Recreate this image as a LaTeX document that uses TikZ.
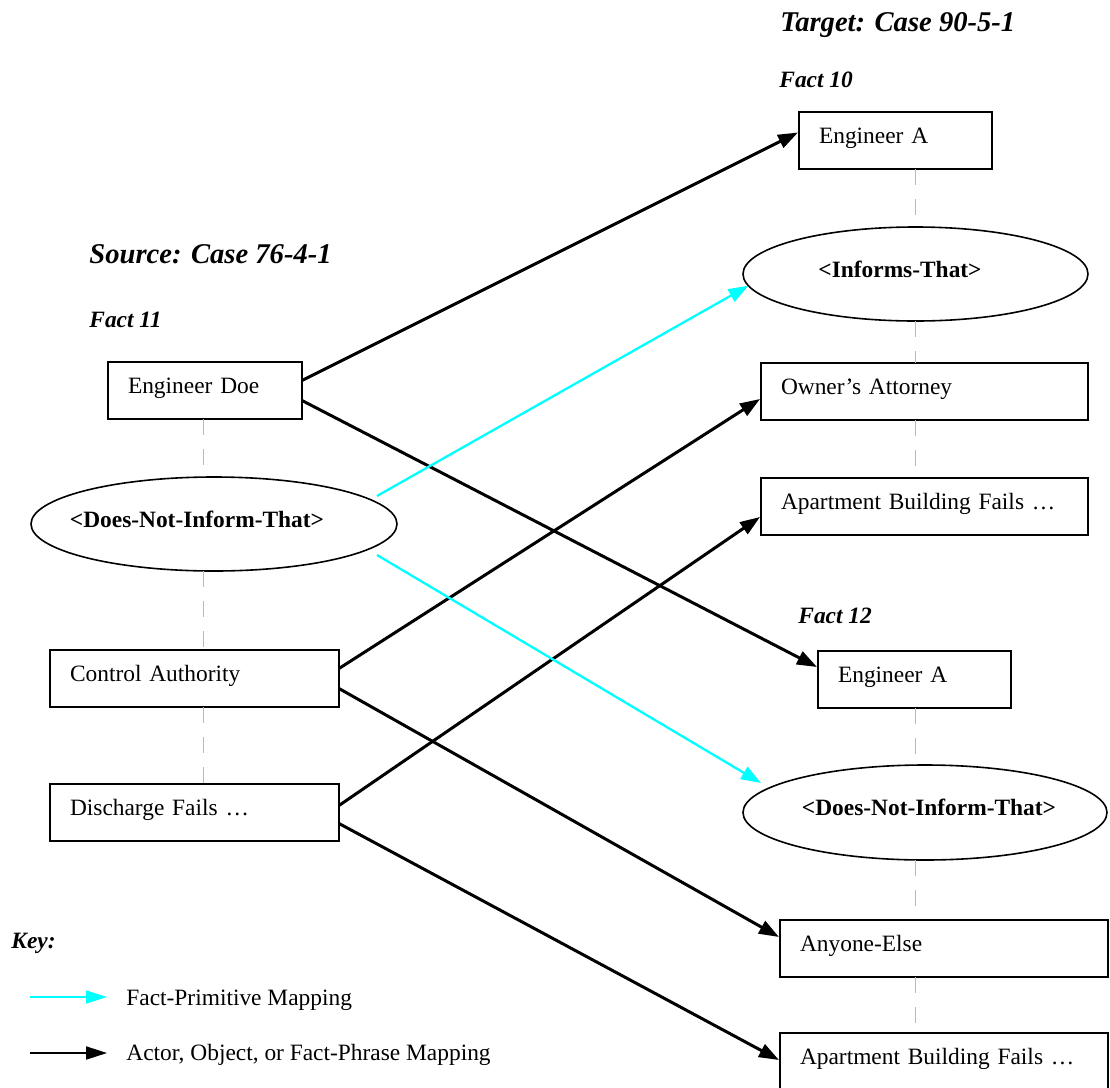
\documentclass[tikz,border=0pt]{standalone}
\usepackage{fontspec}
\setmainfont{Liberation Serif}
\usetikzlibrary{arrows.meta,calc,shapes.geometric}
\definecolor{cyanmap}{RGB}{0,255,255}
\definecolor{dashgray}{RGB}{185,185,185}
\begin{document}
\begin{tikzpicture}[x=0.5pt,y=-0.5pt,
  every node/.style={font=\fontsize{11.7pt}{14pt}\selectfont},
  factbox/.style={draw, line width=1pt, fill=white, rectangle, anchor=north west,
    outer sep=0pt, inner xsep=10pt, inner ysep=0pt, align=left,
    text height=8pt, text depth=5pt, minimum height=28.5pt},
  primell/.style={draw, line width=0.8pt, fill=white, ellipse, outer sep=0pt,
    inner sep=0pt, text height=8pt, text depth=5pt, font=\fontsize{11.7pt}{14pt}\selectfont\bfseries},
  heading/.style={anchor=base west, inner sep=0pt, font=\fontsize{14.3pt}{17pt}\selectfont\bfseries\itshape},
  factlabel/.style={anchor=base west, inner sep=0pt, font=\fontsize{11.7pt}{14pt}\selectfont\bfseries\itshape},
  keytext/.style={anchor=base west, inner sep=0pt},
  link/.style={dashgray, line width=0.5pt, dash pattern=on 8pt off 7pt},
  objmap/.style={line width=1.5pt, -{Triangle[length=10pt,width=7pt]}},
  primmap/.style={cyanmap, line width=1.15pt, -{Triangle[length=10pt,width=7pt]}}
]
\useasboundingbox (0,0) rectangle (1110,1088);
\clip (0,0) rectangle (1110,1088);

% headings
\node[heading] (src) at (89,263) {Source: Case 76-4-1};
\node[heading] (tgt) at (780,31) {Target: Case 90-5-1};
\node[factlabel] (f11) at (89,327) {Fact 11};
\node[factlabel] (f10) at (779,87) {Fact 10};
\node[factlabel] (f12) at (798,623) {Fact 12};
\node[factlabel] (key) at (11,948) {Key:};

% column coordinates for the dashed links
\coordinate (colL) at (203,0);
\coordinate (colR) at (915,0);

% source nodes
\node[factbox, minimum width=97pt, text width=77pt] (engdoe) at (108,362) {Engineer Doe};
\node[primell, minimum width=183pt, minimum height=47pt] (dnitL) at (214,524)
  {\makebox[0pt]{<Does-Not-Inform-That>\hspace{17pt}}};
\node[factbox, minimum width=144.5pt, text width=124.5pt] (contauth) at (50,650) {Control Authority};
\node[factbox, minimum width=144.5pt, text width=124.5pt] (disch) at (50,784) {Discharge Fails …};

% target nodes
\node[factbox, minimum width=96.5pt, text width=76.5pt] (engA10) at (799,112) {Engineer A};
\node[primell, minimum width=172.5pt, minimum height=47pt] (informs) at (915.5,274)
  {\makebox[0pt]{<Informs-That>\hspace{15.5pt}}};
\node[factbox, minimum width=163.5pt, text width=143.5pt] (owner) at (761,363) {Owner’s Attorney};
\node[factbox, minimum width=163.5pt, text width=143.5pt] (aptU) at (761,478) {Apartment Building Fails …};
\node[factbox, minimum width=96.5pt, text width=76.5pt] (engA12) at (818,651) {Engineer A};
\node[primell, minimum width=182pt, minimum height=47.5pt] (dnitR) at (925,812.5)
  {\makebox[0pt]{\hspace{4pt}<Does-Not-Inform-That>}};
\node[factbox, minimum width=164pt, text width=144pt] (anyone) at (780,920) {Anyone-Else};
\node[factbox, minimum width=164pt, text width=144pt] (aptL) at (780,1033) {Apartment Building Fails …};

% dashed links within facts
\draw[link] (engdoe.south -| colL) -- (dnitL.north -| colL);
\draw[link] (dnitL.south -| colL) -- (contauth.north -| colL);
\draw[link] (contauth.south -| colL) -- (disch.north -| colL);
\draw[link] (engA10.south -| colR) -- (informs.north -| colR);
\draw[link] (informs.south -| colR) -- (owner.north -| colR);
\draw[link] (owner.south -| colR) -- (aptU.north -| colR);
\draw[link] (engA12.south -| colR) -- (dnitR.north -| colR);
\draw[link] (dnitR.south -| colR) -- (anyone.north -| colR);
\draw[link] (anyone.south -| colR) -- (aptL.north -| colR);

% mappings
\draw[objmap] ($(engdoe.east)+(0,-10)$) -- ($(engA10.west)+(-1,-8)$);
\draw[objmap] ($(engdoe.east)+(0,10)$) -- ($(engA12.west)+(-1,-12.5)$);
\draw[objmap] ($(contauth.east)+(0,-10)$) -- ($(owner.west)+(-1,7.5)$);
\draw[objmap] ($(contauth.east)+(0,10)$) -- ($(anyone.west)+(-1,-11.5)$);
\draw[objmap] ($(disch.east)+(0,-7)$) -- ($(aptU.west)+(-1,10.5)$);
\draw[objmap] ($(disch.east)+(0,11)$) -- ($(aptL.west)+(-1,-1.5)$);
\draw[primmap] ($(dnitL.east)+(-20,-28)$) -- (informs.184);
\draw[primmap] ($(dnitL.east)+(-20,31)$) -- ($(dnitR.west)+(18,-29.5)$);

% key
\coordinate (k1a) at (30,997);
\coordinate (k1b) at (107,997);
\coordinate (k2a) at (30,1053);
\coordinate (k2b) at (107,1053);
\draw[cyanmap, line width=0.8pt, -{Triangle[length=10.5pt,width=6.5pt]}] (k1a) -- (k1b);
\draw[line width=1pt, -{Triangle[length=10.5pt,width=6.5pt]}] (k2a) -- (k2b);
\node[keytext] (k1t) at (126,1005) {Fact-Primitive Mapping};
\node[keytext] (k2t) at (126,1060) {Actor, Object, or Fact-Phrase Mapping};
\end{tikzpicture}
\end{document}
